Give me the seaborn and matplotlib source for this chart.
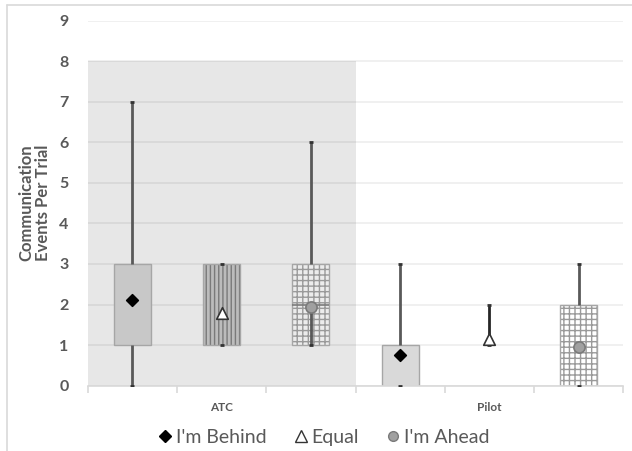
import matplotlib
matplotlib.use("Agg")
import matplotlib.pyplot as plt
from matplotlib.lines import Line2D
import seaborn as sns
import pandas as pd

groups = ["ATC", "Pilot"]
conditions = ["I'm Behind", "Equal", "I'm Ahead"]

# per group, per condition (order: Behind, Equal, Ahead)
mins    = [0, 1, 1,   0, 1, 0]
q1s     = [1, 1, 1,   0, 1, 0]
medians = [1, 1, 2,   0, 1, 0]
q3s     = [3, 3, 3,   1, 1, 2]
maxs    = [7, 3, 6,   3, 2, 3]
means   = [2.1, 1.8, 1.95,   0.75, 1.15, 0.95]

sns.set_theme(style="white")
plt.rcParams["font.family"] = ["Lato", "DejaVu Sans"]

GRAY = "#595959"

df = pd.DataFrame({
    "group": [g for g in groups for _ in conditions],
    "cond": conditions * len(groups),
    "min": mins, "q1": q1s, "med": medians, "q3": q3s, "max": maxs, "mean": means,
})
offsets = {c: (i - 1) / 3 for i, c in enumerate(conditions)}
df["x"] = [groups.index(g) + offsets[c] for g, c in zip(df["group"], df["cond"])]

box_style = {
    ("ATC", "I'm Behind"): dict(fc="#c8c8c8", hatch=None, hc=None),
    ("ATC", "Equal"): dict(fc="#bcbcbc", hatch="||||", hc="#7a7a7a"),
    ("ATC", "I'm Ahead"): dict(fc="#ececec", hatch="+++", hc="#9a9a9a"),
    ("Pilot", "I'm Behind"): dict(fc="#d9d9d9", hatch=None, hc=None),
    ("Pilot", "Equal"): dict(fc="#d9d9d9", hatch=None, hc=None),
    ("Pilot", "I'm Ahead"): dict(fc="#ffffff", hatch="+++", hc="#9a9a9a"),
}

fig = plt.figure(figsize=(6.32, 4.51), dpi=100)
ax = fig.add_axes([0.139, 0.145, 0.847, 0.809])

ax.set_xlim(-0.5, 1.5)
ax.set_ylim(0, 9)
ax.axvspan(-0.5, 0.5, ymin=0, ymax=8 / 9, color="#e7e7e7", zorder=0, lw=0)
ax.set_axisbelow(True)
ax.yaxis.grid(True, color="black", alpha=0.07, lw=1.2)
ax.set_yticks(range(10))

bw = 0.138
for _, r in df.iterrows():
    st = box_style[(r["group"], r["cond"])]
    h = r["q3"] - r["q1"]
    if h > 0:
        if st["hatch"]:
            ax.bar(r["x"], h, bottom=r["q1"], width=bw, facecolor=st["fc"],
                   edgecolor=st["hc"], hatch=st["hatch"], lw=0, zorder=2)
            ax.bar(r["x"], h, bottom=r["q1"], width=bw, fill=False,
                   edgecolor="#a6a6a6", lw=1, zorder=2.1)
        else:
            ax.bar(r["x"], h, bottom=r["q1"], width=bw, facecolor=st["fc"],
                   edgecolor="#a6a6a6", lw=1, zorder=2)
    if r["q1"] < r["med"] < r["q3"]:
        ax.hlines(r["med"], r["x"] - bw / 2, r["x"] + bw / 2, color="#7a7a7a", lw=1.2, zorder=2.2)
    wc = "#262626" if (r["group"], r["cond"]) == ("Pilot", "Equal") else GRAY
    ax.vlines(r["x"], r["q3"], r["max"], color=wc, lw=2, zorder=3)
    ax.vlines(r["x"], r["min"], r["med"], color=wc, lw=2, zorder=3)
    ax.plot([r["x"], r["x"]], [r["max"], r["min"]], ls="none", marker="_",
            ms=3, mew=2, color="#333333", zorder=3)

marker_style = {
    "I'm Behind": dict(marker="D", color="black", edgecolor="black", s=35),
    "Equal": dict(marker="^", color="white", edgecolor="#333333", s=70),
    "I'm Ahead": dict(marker="o", color="#a0a0a0", edgecolor="#7a7a7a", s=65),
}
for c in conditions:
    sub = df[df["cond"] == c]
    sns.scatterplot(data=sub, x="x", y="mean", ax=ax, legend=False, zorder=4,
                    linewidth=1.2, **marker_style[c])

for s in ["top", "right", "left"]:
    ax.spines[s].set_visible(False)
ax.spines["bottom"].set_color("#d9d9d9")
ax.spines["bottom"].set_linewidth(1.2)

ax.set_xticks([0, 1])
ax.set_xticklabels(groups, fontsize=8.5, fontweight="bold", color=GRAY)
ax.set_xticks([-0.5, -1 / 6, 1 / 6, 0.5, 5 / 6, 7 / 6, 1.5], minor=True)
ax.tick_params(axis="x", which="major", length=0, pad=12)
ax.tick_params(axis="x", which="minor", length=5, color="#d9d9d9", width=1.2, bottom=True)
ax.tick_params(axis="y", length=0, pad=14, labelsize=11.5, labelcolor=GRAY)
for lab in ax.get_yticklabels():
    lab.set_fontweight("bold")
ax.set_xlabel("")
ax.set_ylabel("Communication\nEvents Per Trial", fontsize=12, fontweight="bold",
              color=GRAY, labelpad=6, linespacing=1.05)

handles = [
    Line2D([], [], ls="none", marker="D", ms=6, color="black"),
    Line2D([], [], ls="none", marker="^", ms=8, mfc="white", mec="#333333", mew=1),
    Line2D([], [], ls="none", marker="o", ms=7, mfc="#a0a0a0", mec="#7a7a7a"),
]
fig.legend(handles, conditions, loc="center", bbox_to_anchor=(0.511, 0.031), ncol=3,
           frameon=False, fontsize=14, handletextpad=0.1, columnspacing=1.3,
           labelcolor=GRAY, handlelength=0.9)

# chart border (top and left visible in reference)
fig.add_artist(Line2D([0.011, 1.0], [0.989, 0.989], color="#d9d9d9", lw=1.2))
fig.add_artist(Line2D([0.011, 0.011], [0.0, 0.989], color="#d9d9d9", lw=1.2))

fig.savefig("out.png", dpi=100)
